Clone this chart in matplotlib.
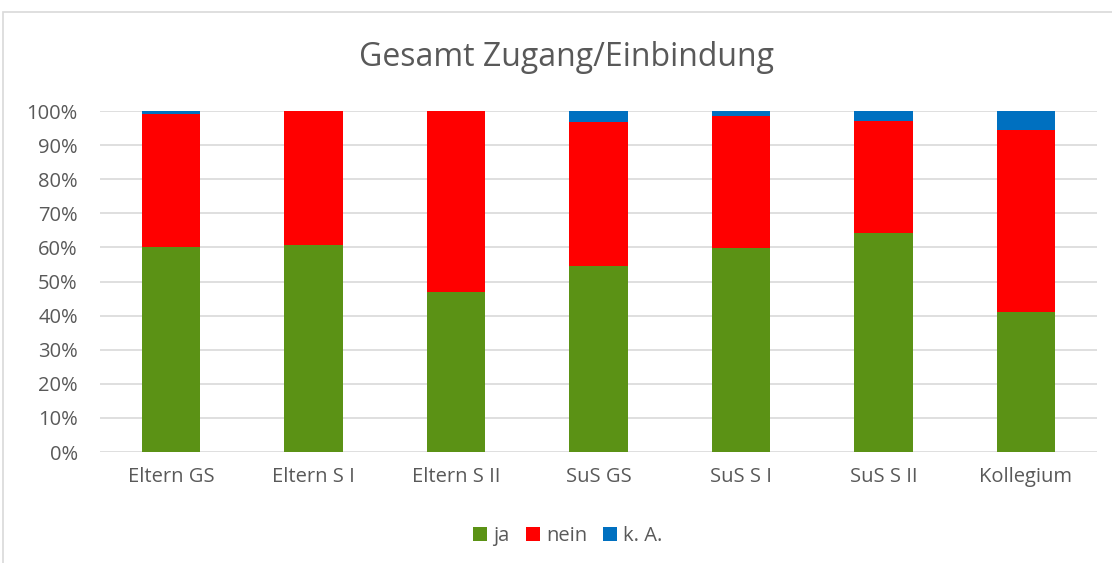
import matplotlib.pyplot as plt
from matplotlib.patches import Rectangle
import numpy as np

plt.rcParams['font.family'] = ['Open Sans', 'DejaVu Sans']

# Values (percent)
categories = ['Eltern GS', 'Eltern S I', 'Eltern S II', 'SuS GS', 'SuS S I', 'SuS S II', 'Kollegium']
ja = [60.2, 60.6, 47.0, 54.6, 59.7, 64.3, 41.0]
k_a = [0.8, 0.0, 0.0, 3.1, 1.4, 3.0, 5.5]
nein = [100 - j - k for j, k in zip(ja, k_a)]

W, H = 1112, 563
fig = plt.figure(figsize=(W / 100, H / 100), dpi=100)
ax = fig.add_axes([100 / W, (H - 452) / H, 997 / W, 341 / H])

txt = '#595959'
x = np.arange(len(categories))
bw = 0.41
ax.bar(x, ja, bw, color='#5b9215', label='ja', zorder=3)
ax.bar(x, nein, bw, bottom=ja, color='#ff0000', label='nein', zorder=3)
ax.bar(x, k_a, bw, bottom=np.array(ja) + np.array(nein), color='#0070c0', label='k. A.', zorder=3)

ax.set_xlim(-0.5, len(categories) - 0.5)
ax.set_ylim(0, 100)
ax.set_yticks(range(0, 101, 10))
ax.set_yticklabels([f'{v}%' for v in range(0, 101, 10)])
ax.set_xticks(x)
ax.set_xticklabels(categories)
ax.tick_params(axis='both', length=0, labelsize=14.5, colors=txt)
ax.tick_params(axis='y', pad=16)
ax.tick_params(axis='x', pad=11)
ax.grid(axis='y', color='#d9d9d9', linewidth=1.2, zorder=0)
for s in ax.spines.values():
    s.set_visible(False)

fig.text(566 / W, 1 - 57 / H, 'Gesamt Zugang/Einbindung', ha='center', va='center',
         fontsize=23, color=txt)

leg = fig.legend(loc='center', bbox_to_anchor=(568 / W, 1 - 536 / H), ncol=3, frameon=False,
                 fontsize=14.5, handlelength=0.7, handleheight=0.7, handletextpad=0.3,
                 columnspacing=0.8)
for t in leg.get_texts():
    t.set_color(txt)

# outer chart border
fig.patches.append(Rectangle((3 / W, -0.05), 1.1, 1 - 12 / H + 0.05, transform=fig.transFigure,
                             fill=False, edgecolor='#d9d9d9', linewidth=1.2))

fig.savefig('out.png', dpi=100, facecolor='white')
